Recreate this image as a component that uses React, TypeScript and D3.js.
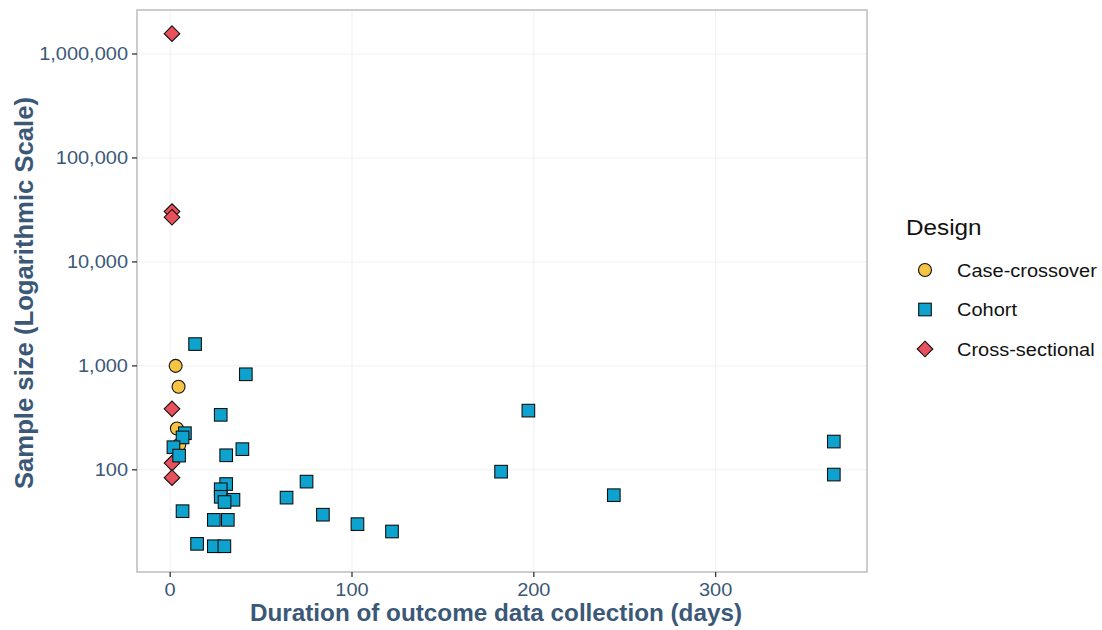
import React from 'react';
import * as d3 from 'd3';

// values: [days, sample size]
const caseCrossover: [number, number][] = [
  [3, 1000], [4.6, 630], [3.7, 250], [5, 174],
];
const cohort: [number, number][] = [
  [13.7, 1620], [41.6, 830], [27.8, 338], [8.1, 225], [6.8, 205], [1.8, 165],
  [4.9, 137], [39.7, 158], [30.8, 138], [30.8, 73], [27.8, 65], [27.8, 55],
  [34.8, 51.5], [29.9, 49], [6.8, 40], [24, 33], [31.7, 33], [14.8, 19.4],
  [24, 18.4], [29.8, 18.4], [64, 54], [75, 77], [84, 37], [103, 30], [122, 25.5],
  [182, 96], [197, 371], [244, 57], [365, 187], [365, 90],
];
const crossSectional: [number, number][] = [
  [1, 1570000], [1, 30500], [1, 26900], [1, 386], [1, 116], [1, 84],
];
const xTicks = [0, 100, 200, 300];
const yTicks = [100, 1000, 10000, 100000, 1000000];
const designs = ['Case-crossover', 'Cohort', 'Cross-sectional'];

const W = 1102, H = 630;
const panel = { left: 137, right: 867, top: 10, bottom: 572 };
const axisCol = '#3b5877';
const stretch = 1.08; // the reference text is a bit wider than Liberation Sans
const colors: Record<string, string> = {
  'Case-crossover': '#f6c342',
  'Cohort': '#0ea3cf',
  'Cross-sectional': '#e8505b',
};

const Marker = ({ kind, x, y }: { kind: string; x: number; y: number }) => {
  const fill = colors[kind];
  if (kind === 'Case-crossover') {
    return <circle cx={x} cy={y} r={6.5} fill={fill} stroke="#111" strokeWidth={1.1} />;
  }
  if (kind === 'Cohort') {
    return <rect x={x - 6.3} y={y - 6.3} width={12.6} height={12.6} fill={fill} stroke="#111" strokeWidth={1.1} />;
  }
  const s = 7.8;
  return (
    <path d={`M${x},${y - s}L${x + s},${y}L${x},${y + s}L${x - s},${y}Z`} fill={fill} stroke="#111" strokeWidth={1.1} />
  );
};

// text stretched horizontally around its anchor point
const SText = ({ x, y, anchor = 'start', size, fill, children }:
  { x: number; y: number; anchor?: string; size: number; fill: string; children: React.ReactNode }) => (
  <text transform={`translate(${x},${y}) scale(${stretch},1)`} textAnchor={anchor} fontSize={size} fill={fill}>
    {children}
  </text>
);

export default function App() {
  const x = d3.scaleLinear().domain([-18.25, 383.25]).range([panel.left, panel.right]);
  const y = d3.scaleLog().domain([10.4, 2650000]).range([panel.bottom, panel.top]);
  const fmt = d3.format(',');
  const font = 'Liberation Sans, Arial, sans-serif';

  const layers: [string, [number, number][]][] = [
    ['Cross-sectional', crossSectional],
    ['Case-crossover', caseCrossover],
    ['Cohort', cohort],
  ];

  return (
    <svg width={W} height={H} style={{ position: 'absolute', left: 0, top: 0, background: '#fff' }} fontFamily={font}>
      <rect x={0} y={0} width={W} height={H} fill="#fff" />
      {/* grid */}
      {xTicks.map(t => (
        <line key={'gx' + t} x1={x(t)} x2={x(t)} y1={panel.top} y2={panel.bottom} stroke="#f1f1f1" strokeWidth={1} />
      ))}
      {yTicks.map(t => (
        <line key={'gy' + t} x1={panel.left} x2={panel.right} y1={y(t)} y2={y(t)} stroke="#f1f1f1" strokeWidth={1} />
      ))}
      {/* points */}
      {layers.map(([kind, pts]) =>
        pts.map((p, i) => <Marker key={kind + i} kind={kind} x={x(p[0])} y={y(p[1])} />)
      )}
      {/* panel border */}
      <rect x={panel.left} y={panel.top} width={panel.right - panel.left} height={panel.bottom - panel.top}
        fill="none" stroke="#bdbdbd" strokeWidth={1.5} />
      {/* x axis */}
      {xTicks.map(t => (
        <g key={'xt' + t}>
          <line x1={x(t)} x2={x(t)} y1={panel.bottom} y2={panel.bottom + 5} stroke="#333" strokeWidth={1.3} />
          <SText x={x(t)} y={panel.bottom + 24} anchor="middle" size={18.5} fill={axisCol}>{t}</SText>
        </g>
      ))}
      <text x={496} y={621} textAnchor="middle" fontSize={24} fontWeight="bold" fill={axisCol}
        textLength={492} lengthAdjust="spacingAndGlyphs">
        Duration of outcome data collection (days)
      </text>
      {/* y axis */}
      {yTicks.map(t => (
        <g key={'yt' + t}>
          <line x1={panel.left - 5} x2={panel.left} y1={y(t)} y2={y(t)} stroke="#333" strokeWidth={1.3} />
          <SText x={panel.left - 9} y={y(t) + 6.5} anchor="end" size={18.5} fill={axisCol}>{fmt(t)}</SText>
        </g>
      ))}
      <text transform={`translate(33,${(panel.top + panel.bottom) / 2 + 2}) rotate(-90)`} textAnchor="middle"
        fontSize={25} fontWeight="bold" fill={axisCol} textLength={392} lengthAdjust="spacingAndGlyphs">
        Sample size (Logarithmic Scale)
      </text>
      {/* legend */}
      <SText x={906} y={235} size={22.5} fill="#111">Design</SText>
      {designs.map((d, i) => (
        <g key={d}>
          <Marker kind={d} x={925} y={270 + i * 39.5} />
          <SText x={957} y={270 + i * 39.5 + 6.5} size={18.5} fill="#111">{d}</SText>
        </g>
      ))}
    </svg>
  );
}
